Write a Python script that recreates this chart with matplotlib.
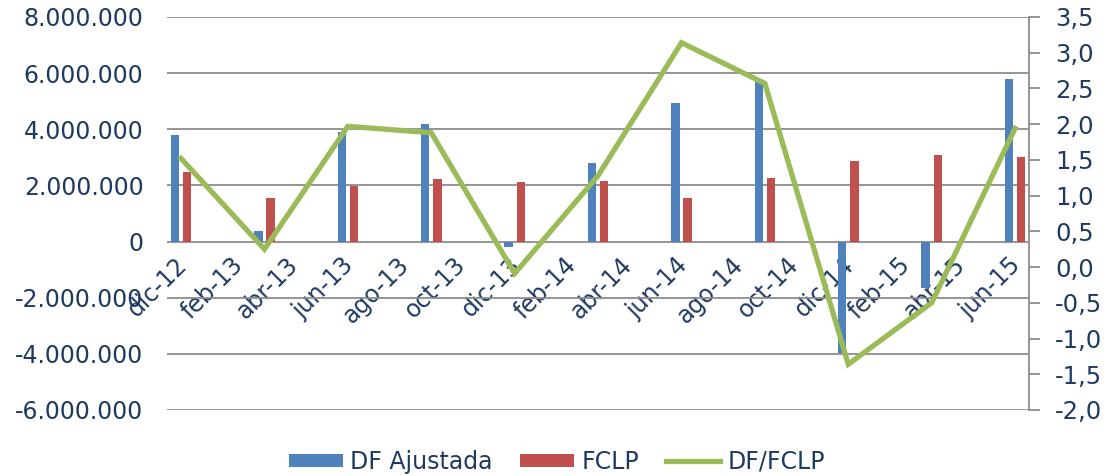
#!/usr/bin/env python3

import matplotlib.pyplot as plt
from matplotlib.ticker import FuncFormatter
from matplotlib.transforms import ScaledTranslation

# Quarterly data points, placed on a monthly axis (dic-12 .. jun-15).
months = ["dic-12", "ene-13", "feb-13", "mar-13", "abr-13", "may-13", "jun-13",
          "jul-13", "ago-13", "sep-13", "oct-13", "nov-13", "dic-13",
          "ene-14", "feb-14", "mar-14", "abr-14", "may-14", "jun-14",
          "jul-14", "ago-14", "sep-14", "oct-14", "nov-14", "dic-14",
          "ene-15", "feb-15", "mar-15", "abr-15", "may-15", "jun-15"]
periods = ["dic-12", "mar-13", "jun-13", "sep-13", "dic-13", "mar-14",
           "jun-14", "sep-14", "dic-14", "mar-15", "jun-15"]
df_ajustada = [3800000, 360000, 3900000, 4200000, -200000, 2800000,
               4950000, 5750000, -3960000, -1640000, 5800000]
fclp = [2480000, 1540000, 1990000, 2220000, 2120000, 2150000,
        1560000, 2260000, 2860000, 3070000, 3020000]
ratio = [1.52, 0.25, 1.97, 1.88, -0.09, 1.28, 3.14, 2.57, -1.36, -0.50, 1.94]

TEXT = '#1F3A60'
GRID = '#8C8C8C'
BLUE = '#4F81BD'
RED = '#C0504D'
GREEN = '#9BBB59'
FS = 17


def thousands(v, pos):
    return f"{v:,.0f}".replace(',', '.')


def decimal_comma(v, pos):
    return f"{v:.1f}".replace('.', ',').replace('-0,0', '0,0')


def main():
    plt.rcParams['font.family'] = ['DejaVu Sans']

    fig = plt.figure(figsize=(11.07, 4.76), dpi=100)
    ax = fig.add_axes([0.151, 0.1387, 0.7785, 0.8256])
    ax2 = ax.twinx()

    x = [months.index(p) for p in periods]
    off = 0.22
    width = 0.30
    ax.bar([i - off for i in x], df_ajustada, width=width, color=BLUE,
           label="DF Ajustada", zorder=2)
    ax.bar([i + off for i in x], fclp, width=width, color=RED,
           label="FCLP", zorder=2)
    ax2.plot(x, ratio, color=GREEN, lw=3.8, label="DF/FCLP",
             solid_joinstyle='miter')

    ax.set_xlim(-0.5, len(months) - 0.5)
    ax.set_ylim(-6000000, 8000000)
    ax.set_yticks(range(-6000000, 8000001, 2000000))
    ax.yaxis.set_major_formatter(FuncFormatter(thousands))
    ax.grid(axis='y', color=GRID, lw=1.3, zorder=0)
    ax.set_axisbelow(True)

    ax2.set_ylim(-2.0, 3.5)
    ax2.set_yticks([-2.0 + 0.5 * i for i in range(12)])
    ax2.yaxis.set_major_formatter(FuncFormatter(decimal_comma))

    # Month labels hang just below the zero line.
    ax.spines['bottom'].set_position(('data', 0))

    for a in (ax, ax2):
        for s in ('top', 'left', 'bottom', 'right'):
            a.spines[s].set_visible(False)
    ax2.spines['right'].set_visible(True)
    ax2.spines['right'].set_color(GRID)
    ax2.spines['right'].set_linewidth(1.3)

    ax.tick_params(axis='y', length=0, labelsize=FS, labelcolor=TEXT, pad=17)
    ax2.tick_params(axis='y', length=8, width=1.3, color=GRID,
                    labelsize=FS + 0.5, labelcolor=TEXT, pad=11)

    ticks = list(range(0, len(months), 2))
    ax.set_xticks(ticks)
    ax.set_xticklabels([months[i] for i in ticks])
    ax.tick_params(axis='x', length=0, pad=8, labelsize=FS,
                   labelcolor=TEXT, labelrotation=45)
    shift = ScaledTranslation(-6 / 100, 0, fig.dpi_scale_trans)
    for lbl in ax.get_xticklabels():
        lbl.set_ha('right')
        lbl.set_rotation_mode('anchor')
        lbl.set_transform(lbl.get_transform() + shift)

    h1, l1 = ax.get_legend_handles_labels()
    h2, l2 = ax2.get_legend_handles_labels()
    fig.legend(h1 + h2, l1 + l2, loc='lower center', ncol=3,
               bbox_to_anchor=(0.503, -0.04), frameon=False, fontsize=FS,
               labelcolor=TEXT, handlelength=2.3, handleheight=0.5,
               columnspacing=1.15, handletextpad=0.3)

    fig.savefig('out.png', dpi=100)


if __name__ == '__main__':
    main()
